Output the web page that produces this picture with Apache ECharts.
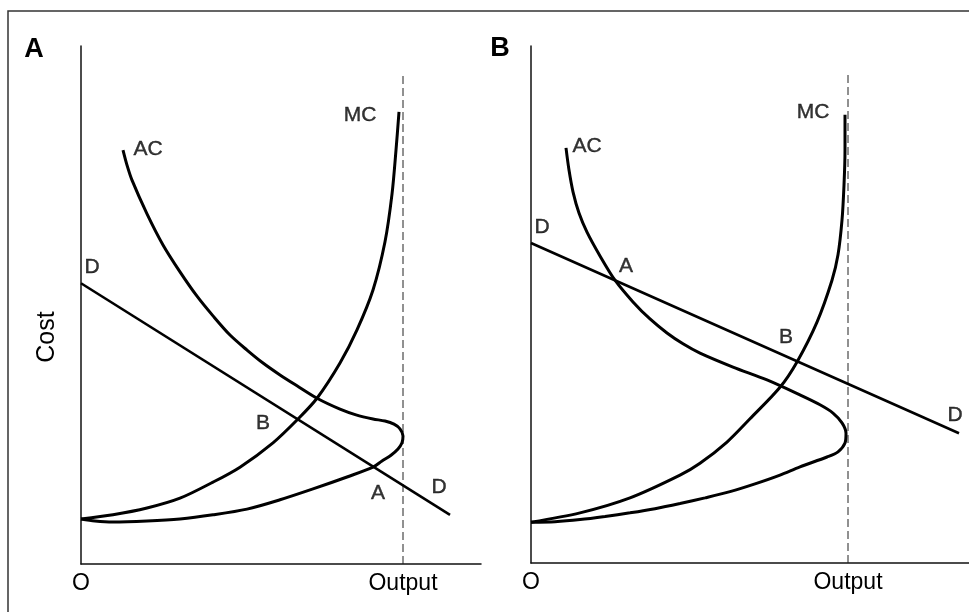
<!DOCTYPE html>
<html>
<head>
<meta charset="utf-8">
<script src="https://cdn.jsdelivr.net/npm/echarts@6/dist/echarts.min.js"></script>
<style>
  html, body { margin: 0; padding: 0; background: #fff; }
  #chart { width: 969px; height: 612px; }
</style>
</head>
<body>
<div id="chart"></div>
<script>
// panel A: capacity output, curves (x = output, y = cost)
const capA = 80.5;
const capTopA = 94.8;
const mcA = [[0, 8.7], [8, 9.5], [16.5, 10.8], [24.75, 12.7], [33, 15.8], [39.75, 18.7], [48, 23.4],
  [54.25, 28.0], [59, 32.0], [64.75, 38.8], [69, 45.2], [73, 52.9], [76, 62.2], [77.75, 71.4],
  [78.75, 79.9], [79.5, 87.3]];
const acA = [[10.5, 79.9], [11.5, 77.0], [12.75, 74.1], [16.5, 67.6], [20.5, 61.6], [24.75, 56.4],
  [29, 51.7], [33, 47.9], [37.25, 44.2], [41.5, 41.3], [45.5, 38.8], [49.75, 36.5], [54, 34.4],
  [59, 32.0], [64.75, 29.9], [68.75, 28.8], [73, 28.0], [76, 27.6], [78.25, 27.0], [79.75, 26.1],
  [80.5, 24.7], [80.25, 23.4], [79.25, 22.2], [77.5, 21.0], [75.25, 19.9], [73, 18.7],
  [66.5, 16.8], [58, 14.5], [49.75, 12.4], [41.5, 10.6], [33, 9.5], [24.75, 8.7], [16.5, 8.3],
  [8, 8.1], [3.5, 8.3], [0, 8.7]];
const demandA = [[0, 54.2], [92.25, 9.5]];
const labelsA = [['D', 2.75, 57.3], ['AC', 16.75, 80.1], ['MC', 69.75, 86.7],
  ['B', 45.5, 27.2], ['A', 74.25, 13.7], ['D', 89.5, 14.9]];

// panel B
const capB = 79.25;
const capTopB = 95;
const mcB = [[0, 7.9], [12.25, 9.7], [24.75, 12.6], [37.25, 17.0], [42.25, 19.3], [49, 23.4],
  [54.75, 27.9], [62.25, 34.0], [66.5, 38.9], [71.5, 46.6], [75.25, 54.7], [76.75, 59.6],
  [77.75, 66.3], [78.25, 73.1], [78.5, 79.9], [78.5, 86.7]];
const acB = [[8.75, 80.3], [9.5, 76.0], [10.5, 71.8], [12, 67.7], [14, 64.0], [17.25, 59.4],
  [21, 54.7], [25.5, 50.5], [29.75, 47.2], [34, 44.5], [38, 42.4], [42.25, 40.6], [50.5, 37.9],
  [59, 35.4], [67.25, 32.5], [72.25, 30.6], [75.5, 29.0], [77.75, 27.1], [78.75, 25.1],
  [78.5, 23.2], [76.75, 21.5], [74, 20.5], [67.25, 18.6], [62.25, 17.0], [56, 15.3],
  [49.75, 13.8], [43.5, 12.6], [37.25, 11.5], [31, 10.5], [24.75, 9.7], [18.5, 9.0],
  [12.25, 8.4], [6, 8.0], [0, 7.9]];
const demandB = [[0, 61.9], [107, 25.1]];
const labelsB = [['D', 2.75, 65], ['AC', 14, 80.7], ['MC', 70.5, 87.2],
  ['A', 23.75, 57.4], ['B', 63.75, 43.7], ['D', 106, 28.6]];

const tickText = ['O', 'Output'];
const FONT = '"Liberation Sans", Arial, sans-serif';
const INK = '#000';

function xAxisFor(gridIndex, max, cap) {
  return {
    type: 'value', gridIndex: gridIndex, min: 0, max: max, interval: cap,
    axisLine: {lineStyle: {color: '#111', width: 1.5}},
    axisTick: {show: false},
    splitLine: {show: false},
    axisLabel: {
      showMaxLabel: false, margin: 8, color: INK, fontSize: 23, fontFamily: FONT,
      formatter: function (v) {
        if (v === 0) return tickText[0];
        if (Math.abs(v - cap) < 1e-6) return tickText[1];
        return '';
      }
    }
  };
}

function yAxisFor(gridIndex) {
  return {
    type: 'value', gridIndex: gridIndex, min: 0, max: 100,
    axisLine: {show: true, lineStyle: {color: '#111', width: 1.5}},
    axisTick: {show: false}, axisLabel: {show: false}, splitLine: {show: false}
  };
}

function curve(idx, data, width) {
  return {
    type: 'line', xAxisIndex: idx, yAxisIndex: idx, data: data,
    smooth: 0.3, symbol: 'none', lineStyle: {color: INK, width: width}
  };
}

function panelSeries(idx, mc, ac, demand, cap, capTop, labels) {
  return [
    {
      type: 'line', xAxisIndex: idx, yAxisIndex: idx, symbol: 'none',
      data: [[cap, 0], [cap, capTop]],
      lineStyle: {color: '#222', width: 1, type: [8, 4]}
    },
    curve(idx, mc, 3),
    curve(idx, ac, 3),
    {
      type: 'line', xAxisIndex: idx, yAxisIndex: idx, data: demand,
      symbol: 'none', lineStyle: {color: INK, width: 2.6}
    },
    {
      type: 'scatter', xAxisIndex: idx, yAxisIndex: idx, symbolSize: 0,
      data: labels.map(l => ({name: l[0], value: [l[1], l[2]]})),
      label: {show: true, position: 'inside', formatter: '{b}', color: INK, fontSize: 21,
        fontFamily: FONT, textBorderColor: INK, textBorderWidth: 0.4}
    }
  ];
}

const myChart = echarts.init(document.getElementById('chart'));
myChart.setOption({
  animation: false,
  backgroundColor: '#fff',
  grid: [
    {left: 81, top: 46, width: 400, height: 518},
    {left: 531, top: 46, width: 438, height: 517}
  ],
  xAxis: [xAxisFor(0, 100, capA), xAxisFor(1, 109.5, capB)],
  yAxis: [yAxisFor(0), yAxisFor(1)],
  series: panelSeries(0, mcA, acA, demandA, capA, capTopA, labelsA)
    .concat(panelSeries(1, mcB, acB, demandB, capB, capTopB, labelsB)),
  graphic: [
    // outer frame (only top and left edges are in the picture)
    {type: 'polyline', shape: {points: [[8, 612], [8, 11], [969, 11]]},
      style: {stroke: '#333', lineWidth: 1.5, fill: null}},
    {type: 'text', x: 34, y: 50, style: {text: 'A', font: 'bold 27px ' + FONT, fill: INK,
      align: 'center', verticalAlign: 'middle'}},
    {type: 'text', x: 500, y: 49, style: {text: 'B', font: 'bold 27px ' + FONT, fill: INK,
      align: 'center', verticalAlign: 'middle'}},
    {type: 'text', x: 47, y: 337, rotation: Math.PI / 2, style: {text: 'Cost', font: '25px ' + FONT,
      fill: INK, align: 'center', verticalAlign: 'middle'}}
  ]
});
</script>
</body>
</html>
